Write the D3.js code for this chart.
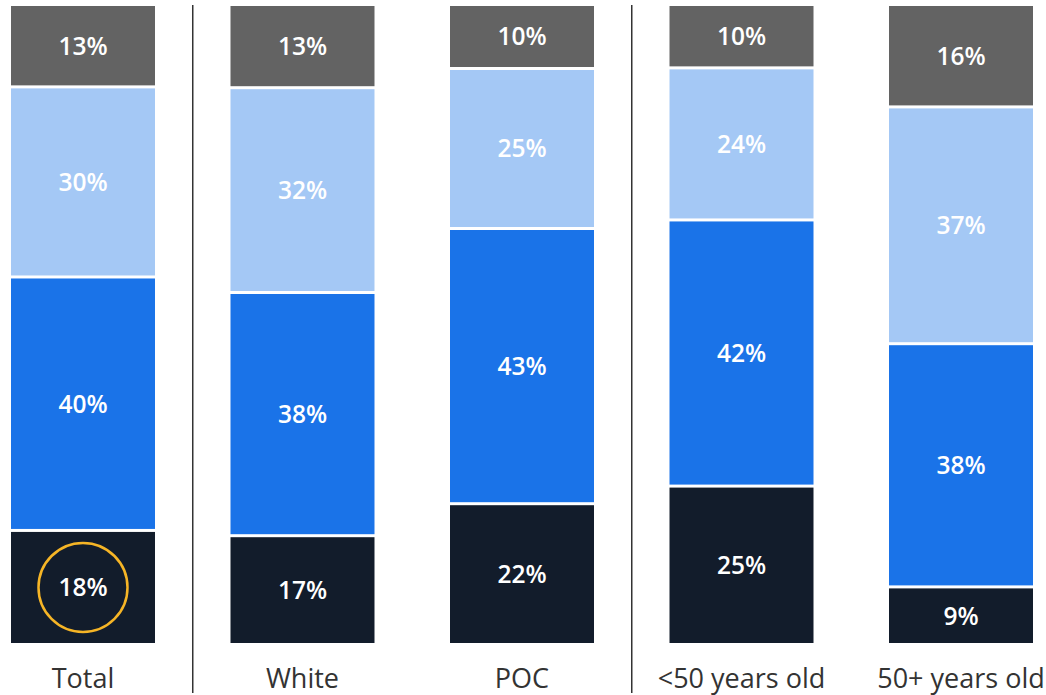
<!DOCTYPE html>
<html><head><meta charset="utf-8">
<script src="https://cdn.jsdelivr.net/npm/d3@7"></script>
<style>body{margin:0;background:#fff}svg{display:block}</style>
</head><body>
<svg id="c" width="1046" height="695"></svg>
<script>
const categories = ["Total", "White", "POC", "<50 years old", "50+ years old"];
const seriesKeys = ["s1", "s2", "s3", "s4"];
const s1 = [18, 17, 22, 25, 9];   // bottom (navy)
const s2 = [40, 38, 43, 42, 38];  // blue
const s3 = [30, 32, 25, 24, 37];  // light blue
const s4 = [13, 13, 10, 10, 16];  // top (gray)
const colors = ["#121c2b", "#1a73e8", "#a4c8f5", "#636363"];
const highlight = {cat: "Total", key: "s1"};
const dividersAfter = ["Total", "POC"];

const table = categories.map((c, i) => ({cat: c, s1: s1[i], s2: s2[i], s3: s3[i], s4: s4[i]}));
const stack = d3.stack().keys(seriesKeys).offset(d3.stackOffsetExpand)(table);

const svg = d3.select("#c");
const x = d3.scaleBand().domain(categories).range([11, 1033]).paddingInner(0.344).paddingOuter(0);
const y = d3.scaleLinear().domain([0, 1]).range([644.5, 4.5]);
const color = d3.scaleOrdinal().domain(seriesKeys).range(colors);
const gap = 1.5;

const g = svg.append("g");
stack.forEach(layer => {
  const lg = g.append("g");
  lg.selectAll("rect").data(layer).join("rect")
    .attr("x", d => x(d.data.cat))
    .attr("width", x.bandwidth())
    .attr("y", d => y(d[1]) + gap)
    .attr("height", d => Math.max(0, y(d[0]) - y(d[1]) - 2 * gap))
    .attr("fill", color(layer.key));
  lg.selectAll("text").data(layer).join("text")
    .attr("x", d => x(d.data.cat) + x.bandwidth() / 2)
    .attr("y", d => (y(d[0]) + y(d[1])) / 2)
    .attr("dy", "0.36em")
    .attr("text-anchor", "middle")
    .attr("fill", "#fff")
    .attr("font-family", "'Open Sans', sans-serif")
    .attr("font-weight", 600)
    .attr("font-size", 24.5)
    .text(d => d.data[layer.key] + "%");
  lg.selectAll("circle").data(layer.filter(d => d.data.cat === highlight.cat && layer.key === highlight.key)).join("circle")
    .attr("cx", d => x(d.data.cat) + x.bandwidth() / 2)
    .attr("cy", d => (y(d[0]) + y(d[1])) / 2)
    .attr("r", 44.5)
    .attr("fill", "none")
    .attr("stroke", "#f6b526")
    .attr("stroke-width", 2.5);
});

// category labels
svg.append("g").selectAll("text").data(categories).join("text")
  .attr("x", d => x(d) + x.bandwidth() / 2)
  .attr("y", 688)
  .attr("text-anchor", "middle")
  .attr("fill", "#333")
  .attr("font-family", "'Open Sans', sans-serif")
  .attr("font-size", 27)
  .text(d => d);

// dividers
svg.append("g").selectAll("line").data(dividersAfter).join("line")
  .attr("x1", d => { const i = categories.indexOf(d); return (x(d) + x.bandwidth() + x(categories[i + 1])) / 2; })
  .attr("x2", d => { const i = categories.indexOf(d); return (x(d) + x.bandwidth() + x(categories[i + 1])) / 2; })
  .attr("y1", 5).attr("y2", 693)
  .attr("stroke", "#333").attr("stroke-width", 1.5);
</script>
</body></html>
